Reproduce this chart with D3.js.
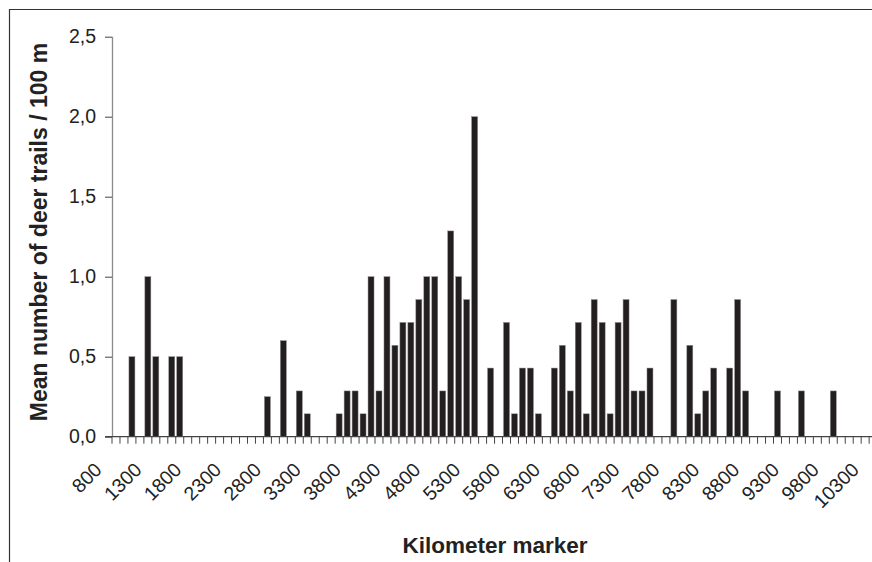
<!DOCTYPE html>
<html>
<head>
<meta charset="utf-8">
<script src="https://cdn.jsdelivr.net/npm/d3@7.9.0/dist/d3.min.js"></script>
<style>
  html, body { margin: 0; padding: 0; background: #fff; }
  svg { display: block; font-family: "Liberation Sans", Arial, sans-serif; }
</style>
</head>
<body>
<svg id="chart" width="872" height="562"></svg>
<script>
// Kilometer markers (categories) and mean deer trails per 100 m
const markers = [
  800, 900, 1000, 1100, 1200, 1300, 1400, 1500, 1600, 1700,
  1800, 1900, 2000, 2100, 2200, 2300, 2400, 2500, 2600, 2700,
  2800, 2900, 3000, 3100, 3200, 3300, 3400, 3500, 3600, 3700,
  3800, 3900, 4000, 4100, 4200, 4300, 4400, 4500, 4600, 4700,
  4800, 4900, 5000, 5100, 5200, 5300, 5400, 5500, 5600, 5700,
  5800, 5900, 6000, 6100, 6200, 6300, 6400, 6500, 6600, 6700,
  6800, 6900, 7000, 7100, 7200, 7300, 7400, 7500, 7600, 7700,
  7800, 7900, 8000, 8100, 8200, 8300, 8400, 8500, 8600, 8700,
  8800, 8900, 9000, 9100, 9200, 9300, 9400, 9500, 9600, 9700,
  9800, 9900, 10000, 10100, 10200, 10300
];
const trails = [
  0, 0, 0.5, 0, 1.0, 0.5, 0, 0.5, 0.5, 0,
  0, 0, 0, 0, 0, 0, 0, 0, 0, 0.25,
  0, 0.6, 0, 0.286, 0.143, 0, 0, 0, 0.143, 0.286,
  0.286, 0.143, 1.0, 0.286, 1.0, 0.571, 0.714, 0.714, 0.857, 1.0,
  1.0, 0.286, 1.286, 1.0, 0.857, 2.0, 0, 0.429, 0, 0.714,
  0.143, 0.429, 0.429, 0.143, 0, 0.429, 0.571, 0.286, 0.714, 0.143,
  0.857, 0.714, 0.143, 0.714, 0.857, 0.286, 0.286, 0.429, 0, 0,
  0.857, 0, 0.571, 0.143, 0.286, 0.429, 0, 0.429, 0.857, 0.286,
  0, 0, 0, 0.286, 0, 0, 0.286, 0, 0, 0,
  0.286, 0, 0, 0, 0, 0
];
const yTicks = [0, 0.5, 1.0, 1.5, 2.0, 2.5];
const labelEvery = 5;

const svg = d3.select('#chart');
const plotLeft = 112, plotTop = 36.7, plotBottom = 436.7;
const step = 7.97;

const x = d3.scaleBand()
  .domain(markers)
  .range([plotLeft, plotLeft + markers.length * step])
  .paddingInner(0.25)
  .paddingOuter(0.125);
const y = d3.scaleLinear().domain([0, 2.5]).range([plotBottom, plotTop]);

const comma = d3.formatLocale({ decimal: ',', thousands: '.', grouping: [3], currency: ['', ''] }).format('.1f');

// outer frame (partly cropped)
svg.append('path')
  .attr('d', 'M9.5,562 V9.5 H872')
  .attr('fill', 'none')
  .attr('stroke', '#333')
  .attr('stroke-width', 1.2);

// bars
svg.append('g').selectAll('rect')
  .data(markers.map((m, i) => ({ m, v: trails[i] })).filter(d => d.v > 0))
  .join('rect')
    .attr('x', d => x(d.m))
    .attr('y', d => y(d.v))
    .attr('width', x.bandwidth())
    .attr('height', d => y(0) - y(d.v))
    .attr('fill', '#231f20')
    .attr('stroke', '#8a8a8a')
    .attr('stroke-width', 0.5);

// y axis
const yAxis = svg.append('g')
  .attr('transform', `translate(${plotLeft},0)`)
  .call(d3.axisLeft(y).tickValues(yTicks).tickSize(7).tickPadding(9).tickFormat(comma));
yAxis.select('.domain').attr('stroke', '#8c8c8c').attr('stroke-width', 1.3).attr('d', `M0.5,${plotTop}V${plotBottom}`);
yAxis.selectAll('.tick line').attr('stroke', '#444');
yAxis.selectAll('.tick text')
  .attr('font-size', 19.5)
  .attr('fill', '#222')
  .attr('font-family', '"Liberation Sans", Arial, sans-serif');

// x axis line and ticks at category boundaries
const gx = svg.append('g');
gx.append('line')
  .attr('x1', plotLeft - 7).attr('x2', 872)
  .attr('y1', plotBottom).attr('y2', plotBottom)
  .attr('stroke', '#444').attr('stroke-width', 1.2);
const bounds = markers.map(m => x(m) - x.step() * 0.125);
gx.selectAll('line.tk')
  .data(bounds)
  .join('line')
    .attr('class', 'tk')
    .attr('x1', d => d).attr('x2', d => d)
    .attr('y1', plotBottom).attr('y2', plotBottom + 7)
    .attr('stroke', '#444').attr('stroke-width', 1);

// rotated category labels
gx.selectAll('text')
  .data(markers.filter((m, i) => i % labelEvery === 0))
  .join('text')
    .attr('transform', d => `translate(${x(d) + x.bandwidth() / 2 - 13},471) rotate(-45)`)
    .attr('text-anchor', 'end')
    .attr('font-size', 19.5)
    .attr('fill', '#222')
    .text(d => d);

// axis titles
svg.append('text')
  .attr('transform', `translate(47,232) rotate(-90)`)
  .attr('text-anchor', 'middle')
  .attr('font-size', 23)
  .attr('font-weight', 'bold')
  .attr('fill', '#222')
  .text('Mean number of deer trails / 100 m');

svg.append('text')
  .attr('x', 495)
  .attr('y', 553)
  .attr('text-anchor', 'middle')
  .attr('font-size', 22.5)
  .attr('font-weight', 'bold')
  .attr('fill', '#222')
  .text('Kilometer marker');
</script>
</body>
</html>
